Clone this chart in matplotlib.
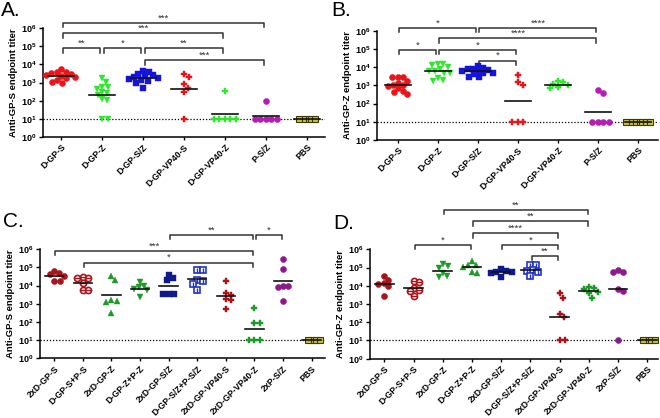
import matplotlib
matplotlib.use("Agg")
import matplotlib.pyplot as plt
import numpy as np

plt.rcParams["font.family"] = ["Liberation Sans", "DejaVu Sans"]
plt.rcParams["mathtext.fontset"] = "custom"
plt.rcParams["mathtext.rm"] = "Liberation Sans"
plt.rcParams["mathtext.bf"] = "Liberation Sans:bold"

# ---------------------------------------------------------------------------
# Datos (títulos de anticuerpos, valores individuales)
# ---------------------------------------------------------------------------

GROUPS_AB = ["D-GP-S", "D-GP-Z", "D-GP-S/Z", "D-GP-VP40-S", "D-GP-VP40-Z", "P-S/Z", "PBS"]
GROUPS_CD = ["2xD-GP-S", "D-GP-S+P-S", "2xD-GP-Z", "D-GP-Z+P-Z", "2xD-GP-S/Z",
             "D-GP-S/Z+P-S/Z", "2xD-GP-VP40-S", "2xD-GP-VP40-Z", "2xP-S/Z", "PBS"]

A_values = [
    [5500, 3900, 3600, 3300, 3000, 2700, 2300, 2000, 1700, 1400, 1100, 900],
    [1800, 1100, 600, 550, 450, 300, 250, 200, 130, 110, 10, 10],
    [4200, 3800, 3000, 2500, 2200, 2000, 1800, 1600, 1400, 1200, 1000, 500],
    [2800, 2000, 800, 500, 300, 10],
    [350, 10, 10, 10, 10, 10],
    [100, 10, 10, 10, 10, 10],
    [10, 10, 10, 10, 10],
]
B_values = [
    [3000, 3000, 2800, 1800, 1400, 1100, 1000, 900, 700, 500, 450, 350],
    [15000, 14000, 13000, 10000, 8000, 6500, 6000, 5000, 4500, 2500, 2000, 1800],
    [12000, 9000, 8000, 7500, 7000, 6500, 6000, 5000, 4500, 4000, 3000, 2800],
    [3500, 1500, 1100, 10, 10, 10],
    [1800, 1500, 1200, 1000, 800, 700],
    [550, 380, 10, 10, 10, 10],
    [10, 10, 10, 10, 10, 10, 10],
]
C_values = [
    [65000, 50000, 45000, 35000, 18000, 17000],
    [30000, 28000, 26000, 14000, 6000, 5500],
    [35000, 20000, 1700, 1500, 1300, 300],
    [16000, 10000, 8000, 6500, 5500, 2300],
    [40000, 25000, 20000, 3500, 3400, 3300],
    [75000, 70000, 20000, 19000, 13000, 6000],
    [17000, 3800, 3200, 1800, 1600, 500],
    [560, 92, 85, 10, 10, 10],
    [300000, 85000, 10000, 9000, 8000, 1500],
    [10, 10, 10, 10],
]
D_values = [
    [35000, 22000, 15000, 13000, 10000, 2800],
    [19000, 16000, 8000, 6000, 5000, 2600],
    [150000, 120000, 90000, 50000, 35000, 30000],
    [220000, 140000, 130000, 110000, 60000, 50000],
    [80000, 65000, 60000, 55000, 50000, 30000],
    [140000, 130000, 75000, 65000, 60000, 35000],
    [3900, 2200, 270, 190, 10, 10],
    [8500, 7500, 6500, 4500, 3800, 2200],
    [70000, 60000, 55000, 6500, 5500, 10],
    [10, 10, 10, 10],
]

# comparaciones: (grupo i, grupo j, altura log10, etiqueta)
A_sig = [(0, 5, 6.29, "***"), (0, 4, 5.71, "***"), (0, 1, 4.88, "**"),
         (1, 2, 4.88, "*"), (2, 4, 4.88, "**"), (2, 5, 4.24, "***")]
B_sig = [(0, 2, 6.17, "*"), (2, 5, 6.17, "****"), (1, 5, 5.59, "****"),
         (0, 1, 4.95, "*"), (1, 3, 4.95, "*"), (2, 3, 4.36, "*")]
C_sig = [(4, 7, 6.79, "**"), (7, 8, 6.79, "*"), (0, 7, 5.91, "***"), (1, 7, 5.27, "*")]
D_sig = [(2, 7, 8.17, "**"), (3, 7, 7.53, "**"), (3, 6, 6.89, "****"),
         (1, 3, 6.25, "*"), (4, 6, 6.25, "*"), (5, 6, 5.64, "**")]

# ---------------------------------------------------------------------------
# Estilos
# ---------------------------------------------------------------------------

RED, LIME, BLUE, MAG = "#e8161b", "#2ee82e", "#1414dc", "#b41cb4"
DRED, GREEN, NAVY, PURP, OBLUE = "#a8141c", "#1f9a2a", "#0f1a8c", "#8c1a8c", "#2233cc"
PBS_FC, PBS_EC = "#c8c23a", "#3c3a00"

STY_AB = [("o", RED), ("v", LIME), ("s", BLUE), ("P", RED), ("P", LIME), ("o", MAG), ("pbs", None)]
STY_C = [("o", DRED), ("ocirc", DRED), ("^", GREEN), ("v", GREEN), ("s", NAVY),
         ("osq", OBLUE), ("P", DRED), ("P", GREEN), ("o", PURP), ("pbs", None)]
STY_D = [("o", DRED), ("ocirc", DRED), ("v", GREEN), ("^", GREEN), ("s", NAVY),
         ("osq", OBLUE), ("P", DRED), ("P", GREEN), ("o", PURP), ("pbs", None)]

W, H = 660, 418


def swarm(vals, px_x, px_y, gap):
    """Desplazamientos horizontales tipo beeswarm (en unidades de categoría)."""
    placed, offs = [], []
    for v in vals:
        y = np.log10(v) * px_y
        x_ok = 0.0
        for step in range(0, 600):
            found = False
            for sgn in (1, -1):
                x = sgn * step * 0.25
                if all((x - qx) ** 2 + (y - qy) ** 2 >= gap ** 2 for qx, qy in placed):
                    x_ok = x
                    found = True
                    break
            if found:
                break
        placed.append((x_ok, y))
        offs.append(x_ok / px_x)
    return np.array(offs)


def draw_panel(fig, box, xlim, groups, values, styles, sig, ylabel, letter, letter_xy):
    left, right, top, bottom = box
    ax = fig.add_axes([left / W, 1 - bottom / H, (right - left) / W, (bottom - top) / H])
    ax.set_yscale("log")
    ax.set_ylim(1, 1e6)
    ax.set_xlim(*xlim)
    px_x = (right - left) / (xlim[1] - xlim[0])
    px_y = (bottom - top) / 6.0

    ax.plot([xlim[0], xlim[1]], [10, 10], color="black", lw=0.9, ls=(0, (1, 1.5)), zorder=1)

    for i, (vals, (mk, col)) in enumerate(zip(values, styles)):
        vals = np.array(vals, dtype=float)
        gap = 4.0 if mk == "pbs" else 5.4
        xs = i + swarm(vals, px_x, px_y, gap)
        if mk == "pbs":
            ax.plot(xs, vals, "s", ms=4.6, mfc=PBS_FC, mec=PBS_EC, mew=0.8, ls="none", zorder=3)
        elif mk == "ocirc":
            ax.plot(xs, vals, "o", ms=4.4, mfc="white", mec=col, mew=1.2, ls="none", zorder=3)
            ax.plot(xs, vals, "_", ms=4.0, mec=col, mew=1.0, ls="none", zorder=4)
        elif mk == "osq":
            ax.plot(xs, vals, "s", ms=4.4, mfc="white", mec=col, mew=1.2, ls="none", zorder=3)
            ax.plot(xs, vals, "|", ms=3.6, mec=col, mew=1.0, ls="none", zorder=4)
        elif mk == "P":
            ax.plot(xs, vals, "P", ms=4.2, mfc=col, mec=col, mew=0.3, ls="none", zorder=3)
        else:
            ax.plot(xs, vals, mk, ms=4.4, mfc=col, mec=col, mew=0.3, ls="none", zorder=3)
        gm = 10 ** np.mean(np.log10(vals))
        ax.plot([i - 0.32, i + 0.32], [gm, gm], color="#111", lw=1.2, zorder=5)

    for i, j, h, lab in sig:
        x0, x1 = i + 0.04, j - 0.04
        ys = [10 ** (h - 0.25), 10 ** h, 10 ** h, 10 ** (h - 0.25)]
        ax.plot([x0, x0, x1, x1], ys, color="#333", lw=1.1, clip_on=False)
        ax.text((x0 + x1) / 2, 10 ** (h + 0.02), lab, ha="center", va="bottom",
                fontsize=6.8, color="#333", clip_on=False)

    ax.set_yticks([10 ** k for k in range(7)])
    ax.set_yticklabels([r"$\mathbf{10^{%d}}$" % k for k in range(7)], fontsize=6.5)
    ax.minorticks_off()
    ax.set_xticks(range(len(groups)))
    ax.set_xticklabels(groups, rotation=45, ha="right", rotation_mode="anchor",
                       fontsize=6.3, fontweight="bold")
    ax.tick_params(axis="y", direction="out", length=3, width=1, pad=1.5)
    ax.tick_params(axis="x", direction="out", length=2, width=1, pad=2)
    ax.set_ylabel(ylabel, fontsize=6.8, fontweight="bold", labelpad=2)
    for sp in ("top", "right"):
        ax.spines[sp].set_visible(False)
    for sp in ("left", "bottom"):
        ax.spines[sp].set_linewidth(1.1)
    fig.text(letter_xy[0] / W, 1 - letter_xy[1] / H, letter, fontsize=15,
             ha="left", va="top")
    return ax


def main():
    fig = plt.figure(figsize=(W / 100, H / 100), dpi=100)

    draw_panel(fig, (43, 325, 28, 137), (-0.44, 6.44), GROUPS_AB, A_values, STY_AB, A_sig,
               "Anti-GP-S endpoint titer", "A.", (1, 1))
    draw_panel(fig, (377, 658, 30.7, 140), (-0.52, 6.5), GROUPS_AB, B_values, STY_AB, B_sig,
               "Anti-GP-Z endpoint titer", "B.", (331, 1))
    draw_panel(fig, (40, 325, 249.3, 358.3), (-0.5, 9.47), GROUPS_CD, C_values, STY_C, C_sig,
               "Anti-GP-S endpoint titer", "C.", (3, 212))
    draw_panel(fig, (370, 658, 249.3, 358.7), (-0.49, 9.37), GROUPS_CD, D_values, STY_D, D_sig,
               "Anti-GP-Z endpoint titer", "D.", (333, 214))

    fig.savefig("out.png", dpi=100)
    plt.close(fig)


if __name__ == "__main__":
    main()
